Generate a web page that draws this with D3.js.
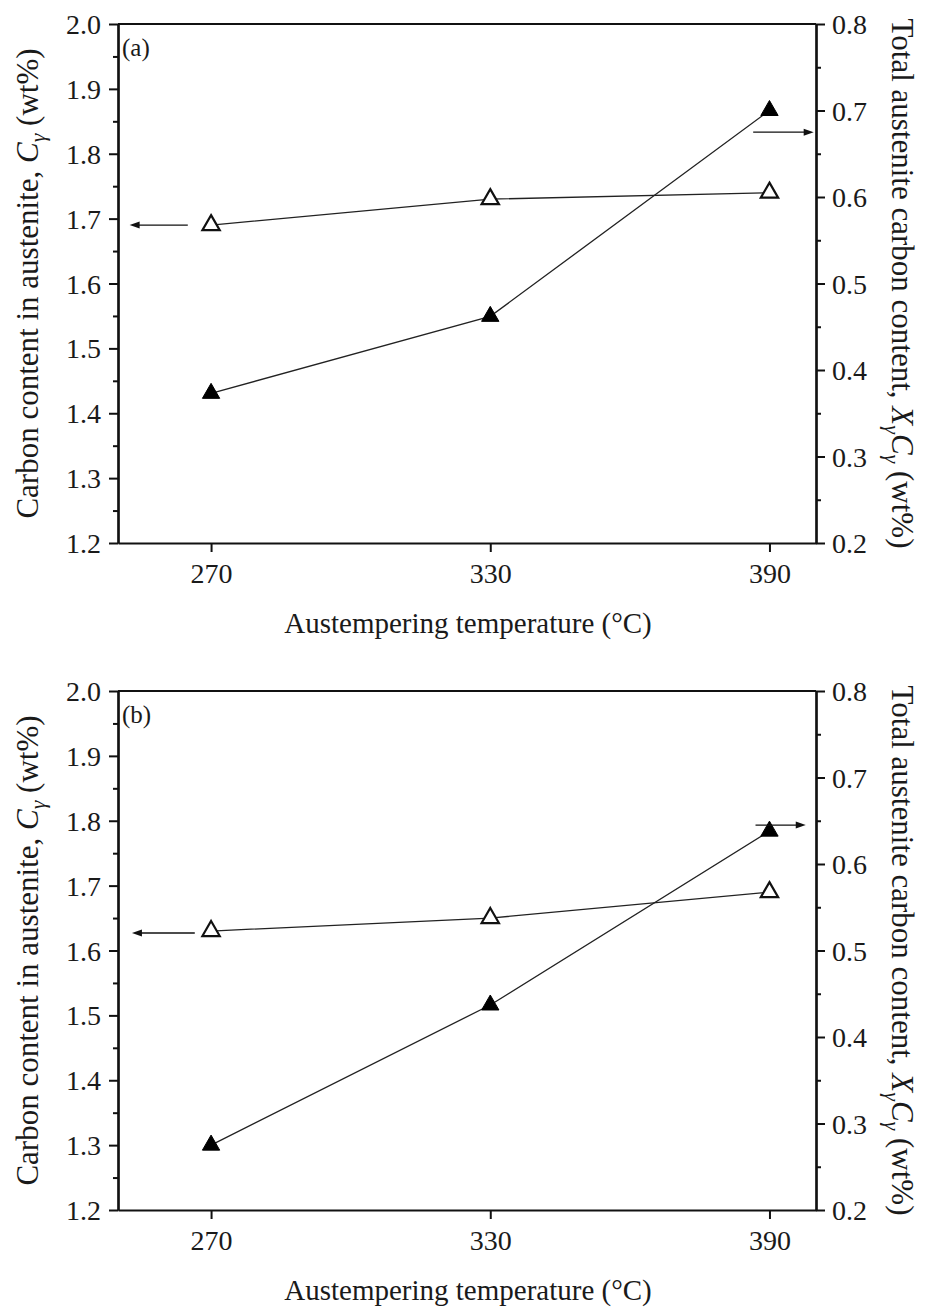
<!DOCTYPE html>
<html><head><meta charset="utf-8">
<script src="https://cdn.jsdelivr.net/npm/d3@7"></script>
<style>body{margin:0;background:#fff}svg{display:block}</style>
</head><body>
<svg id="chart" width="928" height="1309"></svg>
<script>
// ---- data ----
const temperatures = [270, 330, 390];
const panelLabels = ["(a)", "(b)"];
const carbonInAusteniteA = [1.69, 1.73, 1.74];      // left axis, open triangles
const totalCarbonA = [0.373, 0.462, 0.700];          // right axis, filled triangles
const carbonInAusteniteB = [1.63, 1.65, 1.69];
const totalCarbonB = [0.275, 0.437, 0.638];
const xTicks = [270, 330, 390];
const leftTicks = [1.2, 1.3, 1.4, 1.5, 1.6, 1.7, 1.8, 1.9, 2.0];
const rightTicks = [0.2, 0.3, 0.4, 0.5, 0.6, 0.7, 0.8];
const xDomain = [250, 400];
const leftDomain = [1.2, 2.0];
const rightDomain = [0.2, 0.8];
// arrow annotations (data units): [fromX, toX, y]
const leftArrows = [[265, 252.5, 1.69], [266.5, 253, 1.627]];
const rightArrows = [[386.5, 399.5, 0.675], [387, 397.8, 0.645]];
const xTitle = "Austempering temperature (°C)";

// ---- layout ----
const svg = d3.select("#chart");
const FONT = "'Liberation Serif', 'Times New Roman', serif";
const left = 118, right = 816;
const panels = [
  {top: 24, bottom: 543, open: carbonInAusteniteA, filled: totalCarbonA, label: panelLabels[0], la: leftArrows[0], ra: rightArrows[0]},
  {top: 691, bottom: 1210, open: carbonInAusteniteB, filled: totalCarbonB, label: panelLabels[1], la: leftArrows[1], ra: rightArrows[1]}
];

const tri = d3.symbol().type(d3.symbolTriangle).size(130);

function arrow(g, x1, x2, y) {
  const dir = Math.sign(x2 - x1);
  g.append("line").attr("x1", x1).attr("x2", x2 - dir * 8).attr("y1", y).attr("y2", y)
    .attr("stroke", "#111").attr("stroke-width", 1.3);
  g.append("path").attr("d", `M${x2},${y} L${x2 - dir * 10},${y - 3.5} L${x2 - dir * 10},${y + 3.5} Z`).attr("fill", "#111");
}

panels.forEach(p => {
  const g = svg.append("g");
  const x = d3.scaleLinear().domain(xDomain).range([left, right]);
  const yL = d3.scaleLinear().domain(leftDomain).range([p.bottom, p.top]);
  const yR = d3.scaleLinear().domain(rightDomain).range([p.bottom, p.top]);

  const minorL = d3.range(leftTicks.length - 1).map(i => (leftTicks[i] + leftTicks[i + 1]) / 2);
  const minorR = d3.range(rightTicks.length - 1).map(i => (rightTicks[i] + rightTicks[i + 1]) / 2);

  const styleAxis = sel => {
    sel.selectAll("path.domain").attr("stroke", "#111").attr("stroke-width", 2.2);
    sel.selectAll(".tick line").attr("stroke", "#111").attr("stroke-width", 2);
    sel.selectAll(".tick text").attr("font-family", FONT).attr("font-size", 28).attr("fill", "#1a1a1a");
  };

  // minor ticks
  g.append("g").attr("transform", `translate(${left},0)`)
    .call(d3.axisLeft(yL).tickValues(minorL).tickSize(5).tickSizeOuter(0).tickFormat(""))
    .call(styleAxis);
  g.append("g").attr("transform", `translate(${right},0)`)
    .call(d3.axisRight(yR).tickValues(minorR).tickSize(5).tickSizeOuter(0).tickFormat(""))
    .call(styleAxis);

  // major axes
  g.append("g").attr("transform", `translate(${left},0)`)
    .call(d3.axisLeft(yL).tickValues(leftTicks).tickSize(9).tickSizeOuter(0).tickPadding(8).tickFormat(d3.format(".1f")))
    .call(styleAxis)
    .call(s => s.selectAll(".tick text").attr("dy", "0.34em"));
  g.append("g").attr("transform", `translate(${right},0)`)
    .call(d3.axisRight(yR).tickValues(rightTicks).tickSize(9).tickSizeOuter(0).tickPadding(7).tickFormat(d3.format(".1f")))
    .call(styleAxis)
    .call(s => s.selectAll(".tick text").attr("dy", "0.34em"));
  g.append("g").attr("transform", `translate(0,${p.bottom})`)
    .call(d3.axisBottom(x).tickValues(xTicks).tickSize(9).tickSizeOuter(0).tickPadding(11))
    .call(styleAxis);
  // top frame
  g.append("line").attr("x1", left).attr("x2", right).attr("y1", p.top).attr("y2", p.top)
    .attr("stroke", "#111").attr("stroke-width", 2.2);

  // lines
  const lineL = d3.line().x((d, i) => x(temperatures[i])).y(d => yL(d));
  const lineR = d3.line().x((d, i) => x(temperatures[i])).y(d => yR(d));
  g.append("path").attr("d", lineL(p.open)).attr("fill", "none").attr("stroke", "#222").attr("stroke-width", 1.3);
  g.append("path").attr("d", lineR(p.filled)).attr("fill", "none").attr("stroke", "#222").attr("stroke-width", 1.3);

  // markers
  g.selectAll(".open").data(p.open).join("path")
    .attr("transform", (d, i) => `translate(${x(temperatures[i])},${yL(d)})`)
    .attr("d", tri).attr("fill", "#fff").attr("stroke", "#111").attr("stroke-width", 2.2);
  g.selectAll(".filled").data(p.filled).join("path")
    .attr("transform", (d, i) => `translate(${x(temperatures[i])},${yR(d)})`)
    .attr("d", tri).attr("fill", "#000").attr("stroke", "#000").attr("stroke-width", 1);

  // arrows
  arrow(g, x(p.la[0]), x(p.la[1]), yL(p.la[2]));
  arrow(g, x(p.ra[0]), x(p.ra[1]), yR(p.ra[2]));

  // panel label
  g.append("text").attr("x", left + 4).attr("y", p.top + 32).attr("font-family", FONT)
    .attr("font-size", 25).attr("fill", "#1a1a1a").text(p.label);

  // x title
  g.append("text").attr("x", (left + right) / 2 + 1).attr("y", p.bottom + 90)
    .attr("text-anchor", "middle").attr("font-family", FONT).attr("font-size", 29).attr("fill", "#1a1a1a").text(xTitle);

  const mid = (p.top + p.bottom) / 2;
  // left title
  const lt = g.append("text").attr("transform", `translate(38,${mid}) rotate(-90)`)
    .attr("text-anchor", "middle").attr("font-family", FONT).attr("font-size", 31).attr("fill", "#1a1a1a");
  lt.append("tspan").text("Carbon content in austenite, ");
  lt.append("tspan").attr("font-style", "italic").text("C");
  lt.append("tspan").attr("font-style", "italic").attr("font-size", 22).attr("dy", 7).text("γ");
  lt.append("tspan").attr("dy", -7).text(" (wt%)");

  // right title
  const rt = g.append("text").attr("transform", `translate(892,${mid}) rotate(90)`)
    .attr("text-anchor", "middle").attr("font-family", FONT).attr("font-size", 31).attr("fill", "#1a1a1a");
  rt.append("tspan").text("Total austenite carbon content, ");
  rt.append("tspan").attr("font-style", "italic").text("X");
  rt.append("tspan").attr("font-style", "italic").attr("font-size", 22).attr("dy", 7).text("γ");
  rt.append("tspan").attr("font-style", "italic").attr("dy", -7).text("C");
  rt.append("tspan").attr("font-style", "italic").attr("font-size", 22).attr("dy", 7).text("γ");
  rt.append("tspan").attr("dy", -7).text(" (wt%)");
});
</script>
</body></html>
